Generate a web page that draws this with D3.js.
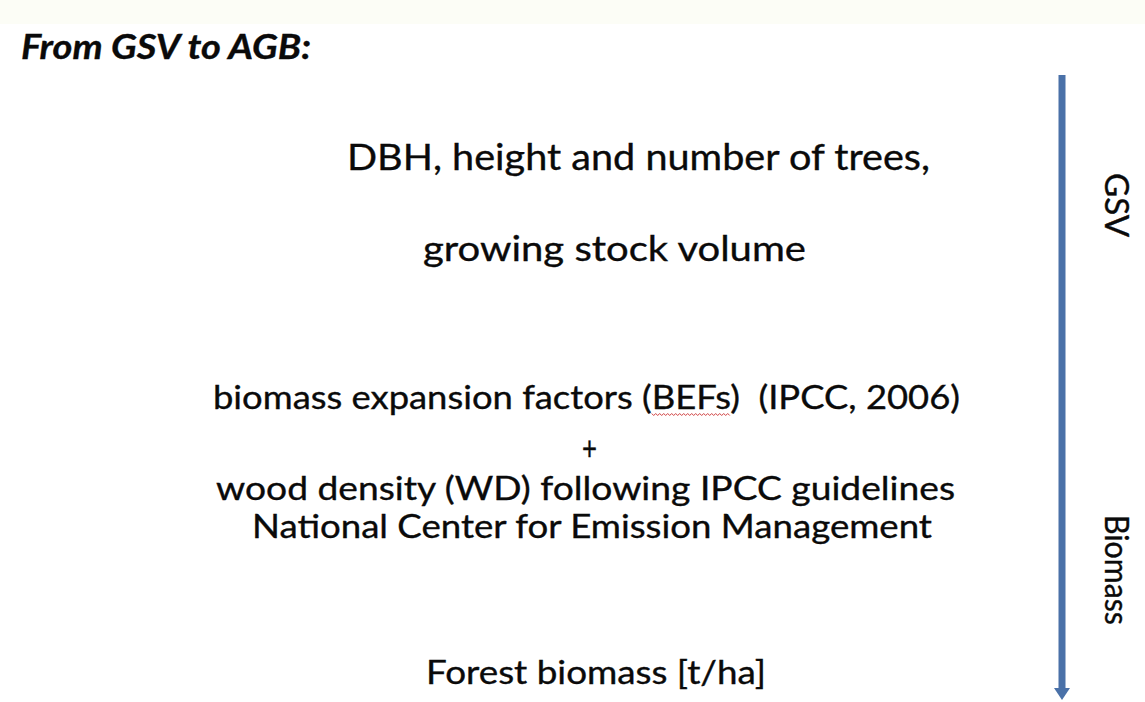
<!DOCTYPE html>
<html>
<head>
<meta charset="utf-8">
<script src="https://cdn.jsdelivr.net/npm/d3@7"></script>
<style>
  html, body { margin: 0; padding: 0; background: #fcfdf6; }
  svg { display: block; }
  text { font-family: Lato, "Open Sans", sans-serif; fill: #0a0a0a; stroke: #0a0a0a; stroke-width: 0.35px; white-space: pre; }
</style>
</head>
<body>
<div id="diagram"></div>
<script>
var svgWidth = 1145;
var svgHeight = 702;

// text content
var title = "From GSV to AGB:";
var lines = [
  "DBH, height and number of trees,",
  "growing stock volume",
  "biomass expansion factors (BEFs)  (IPCC, 2006)",
  "+",
  "wood density (WD) following IPCC guidelines",
  "National Center for Emission Management",
  "Forest biomass [t/ha]"
];
var sideLabels = ["GSV", "Biomass"];

// layout
var lineLayout = [
  { x0: 347, x1: 930, y: 170, size: 36 },
  { x0: 423, x1: 806, y: 261, size: 35 },
  { x0: 213, x1: 960, y: 409, size: 32 },
  { x0: 582, x1: 597, y: 460, size: 32 },
  { x0: 216, x1: 955, y: 500, size: 32 },
  { x0: 252, x1: 932, y: 538, size: 32 },
  { x0: 426, x1: 766, y: 684, size: 32 }
];
var sideLayout = [
  { cx: 1116, cy: 205, len: 64 },
  { cx: 1116, cy: 570, len: 110 }
];

var svg = d3.select("#diagram")
  .append("svg")
  .attr("width", svgWidth)
  .attr("height", svgHeight);

// white slide area under the pale strip at the top
svg.append("rect")
  .attr("x", 0)
  .attr("y", 24)
  .attr("width", svgWidth)
  .attr("height", svgHeight - 24)
  .attr("fill", "#ffffff");

// title
svg.append("text")
  .attr("x", 21)
  .attr("y", 59)
  .attr("font-size", 35)
  .attr("font-weight", "bold")
  .attr("font-style", "italic")
  .attr("textLength", 290)
  .attr("lengthAdjust", "spacingAndGlyphs")
  .text(title);

// centred lines
var textGroup = svg.append("g");
var rows = textGroup.selectAll("text")
  .data(lines)
  .enter()
  .append("text")
  .attr("x", (d, i) => (lineLayout[i].x0 + lineLayout[i].x1) / 2)
  .attr("y", (d, i) => lineLayout[i].y)
  .attr("text-anchor", "middle")
  .attr("font-size", (d, i) => lineLayout[i].size)
  .attr("textLength", (d, i) => lineLayout[i].x1 - lineLayout[i].x0)
  .attr("lengthAdjust", "spacingAndGlyphs")
  .text(d => d);

// red spell-check squiggle under "BEFs"
var befNode = rows.nodes()[2];
var idx = lines[2].indexOf("BEFs");
var sx = befNode.getStartPositionOfChar(idx).x;
var ex = befNode.getEndPositionOfChar(idx + 3).x;
var sy = lineLayout[2].y + 5;
var wave = d3.range(sx, ex, 2).map((x, k) => [x, sy + (k % 2 ? 1.5 : -0.5)]);
svg.append("path")
  .attr("d", d3.line()(wave))
  .attr("fill", "none")
  .attr("stroke", "#d04040")
  .attr("stroke-width", 1);

// arrow on the right
var arrowX = 1062;
var arrowTop = 75;
var arrowBottom = 700;
svg.append("line")
  .attr("x1", arrowX)
  .attr("x2", arrowX)
  .attr("y1", arrowTop)
  .attr("y2", arrowBottom - 10)
  .attr("stroke", "#4a71a8")
  .attr("stroke-width", 7);
svg.append("path")
  .attr("d", `M${arrowX - 8},${arrowBottom - 12} L${arrowX + 8},${arrowBottom - 12} L${arrowX},${arrowBottom} Z`)
  .attr("fill", "#4a71a8");

// vertical labels
svg.selectAll(".side")
  .data(sideLabels)
  .enter()
  .append("text")
  .attr("class", "side")
  .attr("transform", (d, i) => `translate(${sideLayout[i].cx}, ${sideLayout[i].cy}) rotate(90)`)
  .attr("text-anchor", "middle")
  .attr("dy", "0.35em")
  .attr("font-size", 32)
  .attr("textLength", (d, i) => sideLayout[i].len)
  .attr("lengthAdjust", "spacingAndGlyphs")
  .text(d => d);
</script>
</body>
</html>
